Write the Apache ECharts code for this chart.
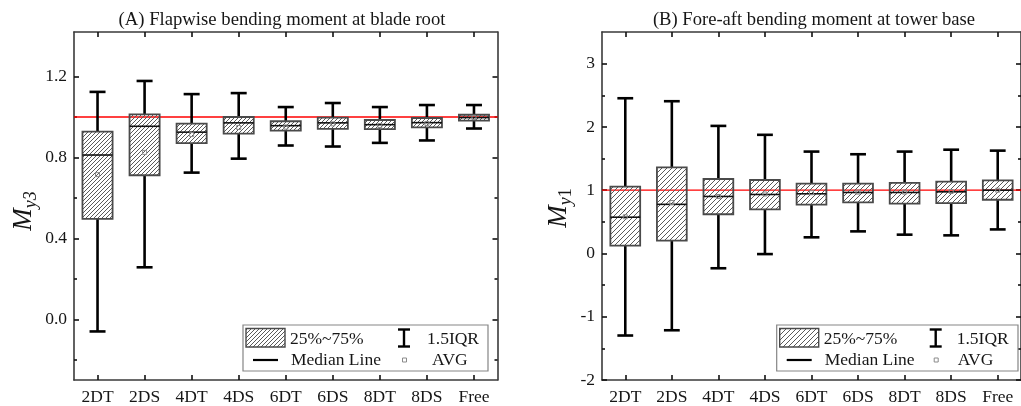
<!DOCTYPE html>
<html>
<head>
<meta charset="utf-8">
<script src="https://cdn.jsdelivr.net/npm/echarts@6/dist/echarts.min.js"></script>
<style>
  html, body { margin: 0; padding: 0; background: #fff; }
  #chart { width: 1021px; height: 406px; }
</style>
</head>
<body>
<div id="chart"></div>
<script>
// Load cases on the horizontal axis
const categories = ['2DT', '2DS', '4DT', '4DS', '6DT', '6DS', '8DT', '8DS', 'Free'];

// (A) Flapwise bending moment at blade root, normalised (My3)
const flapLow    = [-0.06, 0.257, 0.725, 0.794, 0.859, 0.854, 0.872, 0.884, 0.943];
const flapQ1     = [0.496, 0.712, 0.871, 0.918, 0.933, 0.941, 0.940, 0.949, 0.982];
const flapMedian = [0.812, 0.954, 0.925, 0.971, 0.957, 0.971, 0.962, 0.972, 0.997];
const flapQ3     = [0.928, 1.013, 0.967, 1.000, 0.979, 0.997, 0.985, 0.995, 1.011];
const flapHigh   = [1.124, 1.178, 1.113, 1.118, 1.049, 1.069, 1.049, 1.059, 1.059];
const flapMean   = [0.715, 0.825, 0.913, 0.948, 0.950, 0.966, 0.958, 0.968, 0.997];

// (B) Fore-aft bending moment at tower base, normalised (My1)
const towerLow    = [-1.297, -1.214, -0.234, -0.010, 0.255, 0.349, 0.297, 0.286, 0.380];
const towerQ1     = [0.125, 0.203, 0.620, 0.698, 0.771, 0.807, 0.786, 0.797, 0.849];
const towerMedian = [0.573, 0.776, 0.901, 0.932, 0.943, 0.964, 0.964, 0.974, 1.000];
const towerQ3     = [1.057, 1.360, 1.177, 1.161, 1.104, 1.104, 1.115, 1.135, 1.156];
const towerHigh   = [2.453, 2.406, 2.016, 1.875, 1.610, 1.568, 1.610, 1.640, 1.625];
const towerMean   = [0.580, 0.805, 0.900, 0.940, 0.960, 0.970, 0.970, 0.980, 1.000];

// Axis ranges and tick positions
const flapRange = [-0.3, 1.42];
const flapMajorTicks = [0, 0.4, 0.8, 1.2];
const flapMinorTicks = [-0.2, 0.2, 0.6, 1.0];
const towerRange = [-2, 3.5];
const towerMajorTicks = [-2, -1, 0, 1, 2, 3];
const towerMinorTicks = [-1.5, -0.5, 0.5, 1.5, 2.5];

// Reference level
const referenceLevel = 1;

const SERIF = "'Liberation Serif', 'Times New Roman', serif";
const TEXT_COLOR = '#161616';
const FRAME = '#3a3a3a';

function hatchCanvas(size, color) {
  const c = document.createElement('canvas');
  c.width = size; c.height = size;
  const g = c.getContext('2d');
  g.strokeStyle = color;
  g.lineWidth = 1;
  g.beginPath();
  g.moveTo(0, size); g.lineTo(size, 0);
  g.moveTo(-1, 1); g.lineTo(1, -1);
  g.moveTo(size - 1, size + 1); g.lineTo(size + 1, size - 1);
  g.stroke();
  return c;
}
const hatchA = { image: hatchCanvas(4, '#5a5a5a'), repeat: 'repeat' };
const hatchB = { image: hatchCanvas(5, '#5a5a5a'), repeat: 'repeat' };

function boxData(low, q1, med, q3, high, mean) {
  return categories.map((c, i) => [c, low[i], q1[i], med[i], q3[i], high[i], mean[i]]);
}

function boxRenderer(fill) {
  return function (params, api) {
    const cat = api.value(0);
    const pLow = api.coord([cat, api.value(1)]);
    const pQ1 = api.coord([cat, api.value(2)]);
    const pMed = api.coord([cat, api.value(3)]);
    const pQ3 = api.coord([cat, api.value(4)]);
    const pHigh = api.coord([cat, api.value(5)]);
    const pMean = api.coord([cat, api.value(6)]);
    const band = api.size([1, 0])[0];
    const bw = band * 0.64;
    const cw = band * 0.34;
    const cx = pMed[0];
    const whisker = { stroke: '#000', lineWidth: 2.6 };
    return {
      type: 'group',
      children: [
        { type: 'line', shape: { x1: cx, y1: pQ3[1], x2: cx, y2: pHigh[1] }, style: whisker },
        { type: 'line', shape: { x1: cx - cw / 2, y1: pHigh[1], x2: cx + cw / 2, y2: pHigh[1] }, style: whisker },
        { type: 'line', shape: { x1: cx, y1: pQ1[1], x2: cx, y2: pLow[1] }, style: whisker },
        { type: 'line', shape: { x1: cx - cw / 2, y1: pLow[1], x2: cx + cw / 2, y2: pLow[1] }, style: whisker },
        { type: 'rect', shape: { x: cx - bw / 2, y: pQ3[1], width: bw, height: pQ1[1] - pQ3[1] },
          style: { fill: fill, stroke: '#4a4a4a', lineWidth: 1.8 } },
        { type: 'line', shape: { x1: cx - bw / 2, y1: pMed[1], x2: cx + bw / 2, y2: pMed[1] },
          style: { stroke: '#111', lineWidth: 1.6 } },
        { type: 'rect', shape: { x: cx - 2, y: pMean[1] - 2, width: 4, height: 4 },
          style: { fill: 'none', stroke: '#8a8a8a', lineWidth: 1 } }
      ]
    };
  };
}

function refLineRenderer(params, api) {
  const cs = params.coordSys;
  const y = api.coord([0, api.value(0)])[1];
  return { type: 'line', shape: { x1: cs.x, y1: y, x2: cs.x + cs.width, y2: y },
           style: { stroke: '#ff0000', lineWidth: 1.3 } };
}

function xAxes(gridIndex) {
  const common = {
    type: 'category', gridIndex: gridIndex, data: categories, boundaryGap: true,
    axisLine: { show: true, onZero: false, lineStyle: { color: FRAME, width: 1.6 } },
    axisTick: { show: true, inside: true, alignWithLabel: true, length: 5, lineStyle: { color: '#111', width: 1.6 } },
    splitLine: { show: false }
  };
  return [
    Object.assign({}, common, { position: 'bottom',
      axisLabel: { show: true, margin: 8, fontSize: 17.5, fontFamily: SERIF, color: TEXT_COLOR } }),
    Object.assign({}, common, { position: 'top', axisLabel: { show: false } })
  ];
}

function yAxes(gridIndex, range, major, minor, fmt) {
  const base = { type: 'value', gridIndex: gridIndex, min: range[0], max: range[1], splitLine: { show: false } };
  const tickStyle = { color: '#111', width: 1.6 };
  const make = (position, ticks, len, labels, line) => Object.assign({}, base, {
    position: position,
    axisLine: { show: line, onZero: false, lineStyle: { color: FRAME, width: 1.6 } },
    axisTick: { show: true, inside: true, length: len, customValues: ticks, lineStyle: tickStyle },
    axisLabel: labels
      ? { show: true, customValues: ticks, margin: 7, fontSize: 17.5, fontFamily: SERIF, color: TEXT_COLOR, formatter: fmt }
      : { show: false }
  });
  return [
    make('left', major, 5, true, true),
    make('left', minor, 3, false, false),
    make('right', major, 5, false, true),
    make('right', minor, 3, false, false)
  ];
}

function legendGraphics(L, W, fill, col2Icon, iqrText, avgText) {
  const top = 325, h = 46, r1 = 339, r2 = 360;
  const txt = (x, y, s) => ({ type: 'text', x: x, y: y, z: 11,
    style: { text: s, fontSize: 17.5, fontFamily: SERIF, fill: TEXT_COLOR, align: 'left', verticalAlign: 'middle' } });
  const ln = (x1, y1, x2, y2, w, c) => ({ type: 'line', z: 11, shape: { x1, y1, x2, y2 }, style: { stroke: c || '#000', lineWidth: w } });
  return [
    { type: 'rect', z: 10, shape: { x: L, y: top, width: W, height: h }, style: { fill: '#fff', stroke: '#858585', lineWidth: 1.2 } },
    { type: 'rect', z: 11, shape: { x: L + 3, y: 328.5, width: 39, height: 18.5 }, style: { fill: fill, stroke: '#4a4a4a', lineWidth: 1.4 } },
    txt(L + 47, r1, '25%~75%'),
    ln(L + col2Icon, 329.5, L + col2Icon, 346.5, 2.4),
    ln(L + col2Icon - 6, 329.5, L + col2Icon + 6, 329.5, 2.4),
    ln(L + col2Icon - 6, 346.5, L + col2Icon + 6, 346.5, 2.4),
    txt(L + iqrText, r1, '1.5IQR'),
    ln(L + 10, r2, L + 35, r2, 2.2),
    txt(L + 48, r2, 'Median Line'),
    { type: 'rect', z: 11, shape: { x: L + col2Icon - 1.5, y: r2 - 2, width: 4, height: 4 }, style: { fill: 'none', stroke: '#8a8a8a', lineWidth: 1 } },
    txt(L + avgText, r2, 'AVG')
  ];
}

const chart = echarts.init(document.getElementById('chart'), null, { renderer: 'canvas' });

chart.setOption({
  animation: false,
  backgroundColor: '#fff',
  grid: [
    { left: 74, top: 32, width: 423.5, height: 351.5, show: false },
    { left: 602, top: 32, width: 425, height: 351.5, show: false }
  ],
  xAxis: [].concat(xAxes(0), xAxes(1)),
  yAxis: [].concat(
    yAxes(0, flapRange, flapMajorTicks, flapMinorTicks, v => v.toFixed(1)),
    yAxes(1, towerRange, towerMajorTicks, towerMinorTicks, v => String(v))
  ),
  series: [
    { type: 'custom', xAxisIndex: 0, yAxisIndex: 0, z: 1, silent: true,
      renderItem: refLineRenderer, data: [[referenceLevel]], encode: { y: 0 } },
    { type: 'custom', xAxisIndex: 0, yAxisIndex: 0, z: 2, silent: true,
      renderItem: boxRenderer(hatchA),
      data: boxData(flapLow, flapQ1, flapMedian, flapQ3, flapHigh, flapMean),
      encode: { x: 0, y: [1, 2, 3, 4, 5, 6] } },
    { type: 'custom', xAxisIndex: 2, yAxisIndex: 4, z: 1, silent: true,
      renderItem: refLineRenderer, data: [[referenceLevel]], encode: { y: 0 } },
    { type: 'custom', xAxisIndex: 2, yAxisIndex: 4, z: 2, silent: true,
      renderItem: boxRenderer(hatchB),
      data: boxData(towerLow, towerQ1, towerMedian, towerQ3, towerHigh, towerMean),
      encode: { x: 0, y: [1, 2, 3, 4, 5, 6] } }
  ],
  graphic: [
    { type: 'text', x: 282, y: 20, z: 10,
      style: { text: '(A) Flapwise bending moment at blade root', fontSize: 18.7, fontFamily: SERIF, fill: TEXT_COLOR, align: 'center', verticalAlign: 'middle' } },
    { type: 'text', x: 814, y: 20, z: 10,
      style: { text: '(B) Fore-aft bending moment at tower base', fontSize: 18.6, fontFamily: SERIF, fill: TEXT_COLOR, align: 'center', verticalAlign: 'middle' } },
    { type: 'text', x: 25, y: 211, rotation: Math.PI / 2, z: 10,
      style: { text: '{m|M}{s|y3}', align: 'center', verticalAlign: 'middle',
        rich: {
          m: { fontSize: 27, fontStyle: 'italic', fontFamily: SERIF, fill: TEXT_COLOR, verticalAlign: 'bottom', padding: [0, 0, 3, 0] },
          s: { fontSize: 18, fontStyle: 'italic', fontFamily: SERIF, fill: TEXT_COLOR, verticalAlign: 'bottom' }
        } } },
    { type: 'text', x: 560, y: 208, rotation: Math.PI / 2, z: 10,
      style: { text: '{m|M}{s|y}{n|1}', align: 'center', verticalAlign: 'middle',
        rich: {
          m: { fontSize: 27, fontStyle: 'italic', fontFamily: SERIF, fill: TEXT_COLOR, verticalAlign: 'bottom', padding: [0, 0, 3, 0] },
          s: { fontSize: 18, fontStyle: 'italic', fontFamily: SERIF, fill: TEXT_COLOR, verticalAlign: 'bottom' },
          n: { fontSize: 18, fontFamily: SERIF, fill: TEXT_COLOR, verticalAlign: 'bottom' }
        } } }
  ].concat(
    legendGraphics(243, 245, hatchA, 161, 184, 189),
    legendGraphics(776.7, 241.3, hatchB, 159, 180, 181)
  )
});
</script>
</body>
</html>
